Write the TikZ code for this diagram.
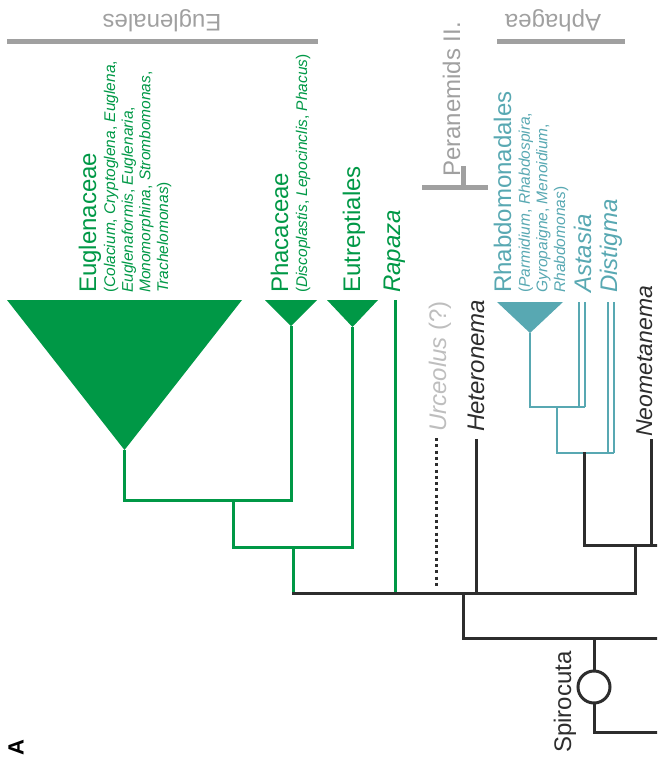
\documentclass[tikz,border=0pt]{standalone}
\usepackage{fontspec}
\setmainfont{Liberation Sans}
\usetikzlibrary{calc}
\definecolor{eugreen}{RGB}{0,152,70}
\definecolor{aphteal}{RGB}{88,168,178}
\definecolor{cladegray}{RGB}{160,160,160}
\definecolor{paleurc}{RGB}{190,190,190}
\definecolor{branchblk}{RGB}{45,45,45}

\begin{document}
\begin{tikzpicture}[x=1pt, y=-1pt,
  gbr/.style={draw=eugreen, line width=3pt},
  kbr/.style={draw=branchblk, line width=3pt, line cap=rect},
  tbr/.style={draw=aphteal, line width=2.6pt},
  dbl/.style={draw=aphteal, line width=2pt, double=white, double distance=4pt},
  dotbr/.style={draw=branchblk, line width=3pt, dash pattern=on 3pt off 3.3pt},
  taxon/.style={rotate=90, anchor=base west, inner sep=0pt,
                font=\fontsize{24}{28}\selectfont},
  genera/.style={rotate=90, anchor=base west, inner sep=0pt, align=left,
                 font=\fontsize{15.5}{17.6}\selectfont},
  clade/.style={rotate=180, anchor=base, inner sep=0pt, text=cladegray,
                font=\fontsize{24}{28}\selectfont},
  bar/.style={draw=cladegray, line width=5pt}
]
\useasboundingbox (0,0) rectangle (657,758);
\clip (0,0) rectangle (657,758);

% ---- clade bars on top ----
\node[clade] (eglL) at (162,14) {Euglenales};
\draw[bar] (7,41) -- (318,41);
\node[clade] (aphL) at (553,14) {Aphagea};
\draw[bar] (497,41) -- (625,41);
\node[taxon, text=cladegray] (perL) at (460,177) {Peranemids II.};
\draw[bar] (422,187) -- (488,187);
\draw[bar] (463,166) -- (463,187);

% ---- Euglenales (green) ----
\foreach \nm/\xl/\xr/\ya in {eug/7/242/450, pha/265/317/326, eut/327/378/327}{
  \fill[eugreen] (\xl,300) -- (\xr,300) -- ({(\xl+\xr)/2},\ya) coordinate (\nm A) -- cycle;
}
\coordinate (n1) at (233,500);
\coordinate (n2) at (293,547);
\coordinate (n3) at (463,593);
\coordinate (rapT) at (395,300);
\draw[gbr] (eugA) |- (n1) -| (phaA);
\draw[gbr] (n1) |- (n2) -| (eutA);
\draw[gbr] (n2) -- (n2 |- n3);
\draw[gbr] (rapT) -- (rapT |- n3);

\node[taxon, text=eugreen] (eugL) at (96,293) {Euglenaceae};
% base of a multi-line node sits on its last line
\node[genera, text=eugreen] (eugG) at (168,293)
  {(\textit{Colacium}, \textit{Cryptoglena}, \textit{Euglena},\\
   \textit{Euglenaformis}, \textit{Euglenaria},\\
   \textit{Monomorphina}, \textit{Strombomonas},\\
   \textit{Trachelomonas})};
\node[taxon, text=eugreen] (phaL) at (288,293) {Phacaceae};
\node[genera, text=eugreen] (phaG) at (307,293)
  {(\textit{Discoplastis}, \textit{Lepocinclis}, \textit{Phacus})};
\node[taxon, text=eugreen] (eutL) at (360,293) {Eutreptiales};
\node[taxon, text=eugreen, font=\fontsize{24}{28}\selectfont\itshape] (rapL) at (400,293) {Rapaza};

% ---- peranemids ----
\coordinate (urcT) at (436,438);
\coordinate (urcB) at (436,588);
\coordinate (hetT) at (476,440);
\node[taxon, text=paleurc] (urcL) at (446,432) {\textit{Urceolus} (?)};
\node[taxon, text=branchblk, font=\fontsize{24}{28}\selectfont\itshape] (hetL) at (484,432) {Heteronema};

% ---- Aphagea (teal) ----
\fill[aphteal] (497,302) -- (563,302) -- (530,333) coordinate (rhaA) -- cycle;
\coordinate (n8) at (557,407);
\coordinate (n5) at (584,453);
\coordinate (astT) at (581.5,302);
\coordinate (astB) at (584.5,407);
\coordinate (disT) at (611,302);
\coordinate (disB) at (614,453);
\draw[dbl] (astT) -- (astT |- n8);
\draw[dbl] (disT) -- (disT |- n5);
\draw[tbr] (rhaA) |- (astB);
\draw[tbr] (n8) |- (disB);

\node[taxon, text=aphteal] (rhaL) at (511,293) {Rhabdomonadales};
\node[genera, text=aphteal] (rhaG) at (565,293)
  {(\textit{Parmidium}, \textit{Rhabdospira},\\
   \textit{Gyropaigne}, \textit{Menoidium},\\
   \textit{Rhabdomonas})};
\node[taxon, text=aphteal, font=\fontsize{24}{28}\selectfont\itshape] (astL) at (591,293) {Astasia};
\node[taxon, text=aphteal, font=\fontsize{24}{28}\selectfont\itshape] (disL) at (617,293) {Distigma};

% ---- black backbone ----
\coordinate (n4) at (635,545);
\coordinate (n6) at (594,638);
\coordinate (n7) at (594,732);
\coordinate (neoT) at (651,440);
\coordinate (east) at (670,0);
\draw[kbr] (n2 |- n3) -| (n4);
\draw[kbr] (hetT) -- (hetT |- n3);
\draw[dotbr] (urcT) -- (urcB);
\draw[kbr] (n5) |- (n4 -| east);
\draw[kbr] (neoT) -- (neoT |- n4);
\draw[kbr] (n3) |- (n6 -| east);
\node[taxon, text=branchblk, font=\fontsize{23}{27}\selectfont\itshape] (neoL) at (652,437) {Neometanema};

% ---- Spirocuta ----
\node[draw=branchblk, line width=3pt, circle, minimum size=32pt, inner sep=0pt] (spiN) at (594,687) {};
\draw[kbr] (n6) -- (spiN);
\draw[kbr] (spiN) -- (n7) -- (n7 -| east);
\node[taxon, text=branchblk] (spiL) at (571,753) {Spirocuta};

\node[rotate=90, inner sep=0pt, font=\fontsize{22}{26}\selectfont\bfseries] (panA) at (16,748) {A};
\end{tikzpicture}
\end{document}
